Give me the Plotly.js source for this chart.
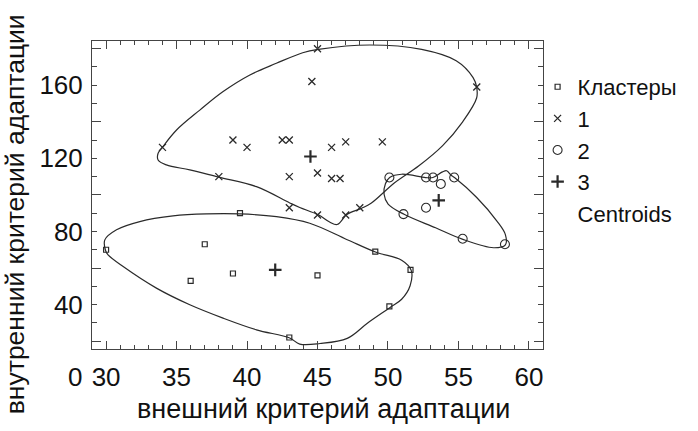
<!DOCTYPE html>
<html>
<head>
<meta charset="utf-8">
<script src="https://cdn.plot.ly/plotly-3.0.1.min.js"></script>
<style>html,body{margin:0;padding:0;background:#fff;}#chart{width:698px;height:431px;}</style>
</head>
<body>
<div id="chart"></div>
<script>
// ---- data ----
const xTitle = 'внешний критерий адаптации';
const yTitle = 'внутренний критерий адаптации';
const legendNames = ['Кластеры', '1', '2', '3', 'Centroids'];

// points drawn with squares (legend "Кластеры")
const sqX = [30, 39.5, 37, 36, 39, 43, 49.1, 51.6, 50.1, 45];
const sqY = [70, 90, 73, 53, 57, 22, 69, 59, 39, 56];
// points drawn with crosses (legend "1")
const xsX = [45, 44.6, 56.3, 34, 39, 40, 42.5, 43, 46, 47, 49.6, 38, 43, 45, 46, 46.6, 43, 45, 47, 48];
const xsY = [180, 162, 159, 126, 130, 126, 130, 130, 126, 129, 129, 110, 110, 112, 109, 109, 93, 89, 89, 93];
// points drawn with circles (legend "2")
const ciX = [50.1, 52.7, 53.2, 53.75, 54.7, 52.7, 51.1, 55.3, 58.3];
const ciY = [109.5, 109.5, 109.5, 106, 109.5, 93, 89.5, 76, 73];
// centroids drawn with plus (legend "3")
const cenX = [44.5, 53.6, 42];
const cenY = [121, 97, 59];

// cluster outlines
const out1X = [34.0, 35.0, 36.65, 38.28, 40.2, 42.08, 43.95, 45.06, 48.7, 52.39, 54.84, 56.04, 56.29, 56.29, 55.3, 53.88, 52.17, 50.47, 48.8, 48.13, 47.11, 46.39, 45.86, 45.06, 43.74, 43.03, 40.67, 37.99, 35.94, 34.28, 33.69, 33.69, 34.0];
const out1Y = [126.1, 135.5, 146.4, 156.4, 165.6, 172, 177.8, 179.6, 182, 179.6, 173.4, 164.2, 159.1, 153, 140, 127, 115.8, 106.6, 95.4, 92.7, 89.4, 83.8, 85.2, 89.1, 93.1, 95.6, 104.5, 109.7, 113.7, 116.4, 119.1, 122.8, 126.1];
const out2X = [50.12, 50.97, 52.67, 53.19, 53.87, 54.16, 54.48, 54.72, 56.28, 57.73, 58.33, 58.33, 57.49, 55.27, 53.38, 51.14, 50.01, 49.72, 49.82, 50.12];
const out2Y = [109.5, 111.3, 109.5, 109.5, 112.6, 113.2, 110.8, 109.5, 98.7, 85.7, 78.3, 72.7, 71.1, 75.8, 82, 89.4, 95, 100.5, 106.1, 109.5];
const out3X = [29.96, 29.91, 30.74, 32.39, 34.75, 37.12, 39.48, 42.09, 44.45, 47.11, 49.16, 50.97, 51.65, 51.57, 50.97, 50.13, 48.56, 47.11, 45.18, 43.74, 43.03, 40.67, 38.3, 35.94, 33.57, 31.21, 30.14, 29.96];
const out3Y = [69.6, 75.4, 80.9, 85.4, 88.5, 89.6, 89.6, 88.1, 84.5, 75.5, 68.6, 64.3, 58.7, 50.3, 42.9, 38.3, 29.9, 21.5, 18.7, 18.4, 21.7, 26.2, 32.6, 39.9, 49, 60.8, 67.2, 69.6];

const yLabelTicks = [40, 80, 120, 160];
const yLongTicks = [20, 60, 100, 140, 180];

// ---- drawing ----
const ink = '#2a2a2a';
const font = 'Liberation Sans, Arial, sans-serif';
const outline = (x, y) => ({x: x, y: y, mode: 'lines', line: {color: ink, width: 1.2, shape: 'spline', smoothing: 1}, showlegend: false, hoverinfo: 'skip'});

const traces = [
  outline(out1X, out1Y),
  outline(out2X, out2Y),
  outline(out3X, out3Y),
  {x: sqX, y: sqY, mode: 'markers', name: legendNames[0], marker: {symbol: 'square-open', size: 5, color: ink, line: {width: 1.2, color: ink}}},
  {x: xsX, y: xsY, mode: 'markers', name: legendNames[1], marker: {symbol: 'x-thin-open', size: 7, color: ink, line: {width: 1.3, color: ink}}},
  {x: ciX, y: ciY, mode: 'markers', name: legendNames[2], marker: {symbol: 'circle-open', size: 9, color: ink, line: {width: 1.1, color: ink}}},
  {x: cenX, y: cenY, mode: 'markers', name: legendNames[3], marker: {symbol: 'cross-thin-open', size: 9, color: ink, line: {width: 2.2, color: '#000'}}},
  {x: [null], y: [null], mode: 'markers', name: legendNames[4], marker: {size: 1, color: 'rgba(0,0,0,0)', line: {width: 0}}},
  {x: [null], y: [null], yaxis: 'y2', mode: 'markers', showlegend: false, hoverinfo: 'skip'}
];

const yRange = [15.7, 184.2];
const layout = {
  width: 698, height: 431,
  margin: {l: 92, r: 155, t: 41, b: 82},
  paper_bgcolor: '#fff', plot_bgcolor: '#fff',
  font: {family: font, size: 26, color: '#111'},
  showlegend: true,
  legend: {x: 0.988, y: 0.919, xanchor: 'left', yanchor: 'top', font: {family: font, size: 22, color: '#111'}, bgcolor: 'rgba(0,0,0,0)', tracegroupgap: 0},
  xaxis: {
    range: [29, 61], showline: true, linecolor: '#444', linewidth: 1, mirror: 'ticks',
    ticks: 'inside', ticklen: 8, tickcolor: '#444', tickwidth: 1, dtick: 5, tick0: 0,
    showgrid: false, zeroline: false, ticklabelstandoff: 5,
    tickfont: {family: font, size: 26, color: '#111'},
    minor: {dtick: 1, tick0: 0, ticks: 'inside', ticklen: 4, tickcolor: '#444', showgrid: false}
  },
  yaxis: {
    range: yRange, showline: true, linecolor: '#444', linewidth: 1, mirror: 'ticks',
    ticks: 'inside', ticklen: 5, tickcolor: '#444', tickwidth: 1, tickvals: yLabelTicks,
    showgrid: false, zeroline: false, ticklabelstandoff: 3,
    tickfont: {family: font, size: 26, color: '#111'},
    minor: {dtick: 10, tick0: 0, ticks: 'inside', ticklen: 5, tickcolor: '#444', showgrid: false}
  },
  yaxis2: {
    overlaying: 'y', anchor: 'x', side: 'left', range: yRange,
    tickvals: yLongTicks, ticks: 'inside', ticklen: 9, tickcolor: '#444', mirror: 'ticks',
    showticklabels: false, showline: false, showgrid: false, zeroline: false
  },
  annotations: [
    {text: xTitle, xref: 'paper', yref: 'paper', x: 0.514, y: -0.196, xanchor: 'center', yanchor: 'middle', showarrow: false, font: {family: font, size: 27, color: '#111'}},
    {text: yTitle, xref: 'paper', yref: 'paper', x: -0.172, y: 0.439, xanchor: 'center', yanchor: 'middle', textangle: -90, showarrow: false, font: {family: font, size: 26.5, color: '#111'}},
    {text: '0', xref: 'paper', yref: 'paper', x: -0.0377, y: -0.0924, xanchor: 'center', yanchor: 'middle', showarrow: false, font: {family: font, size: 26, color: '#111'}}
  ]
};

Plotly.newPlot('chart', traces, layout, {staticPlot: true, displayModeBar: false});
</script>
</body>
</html>
